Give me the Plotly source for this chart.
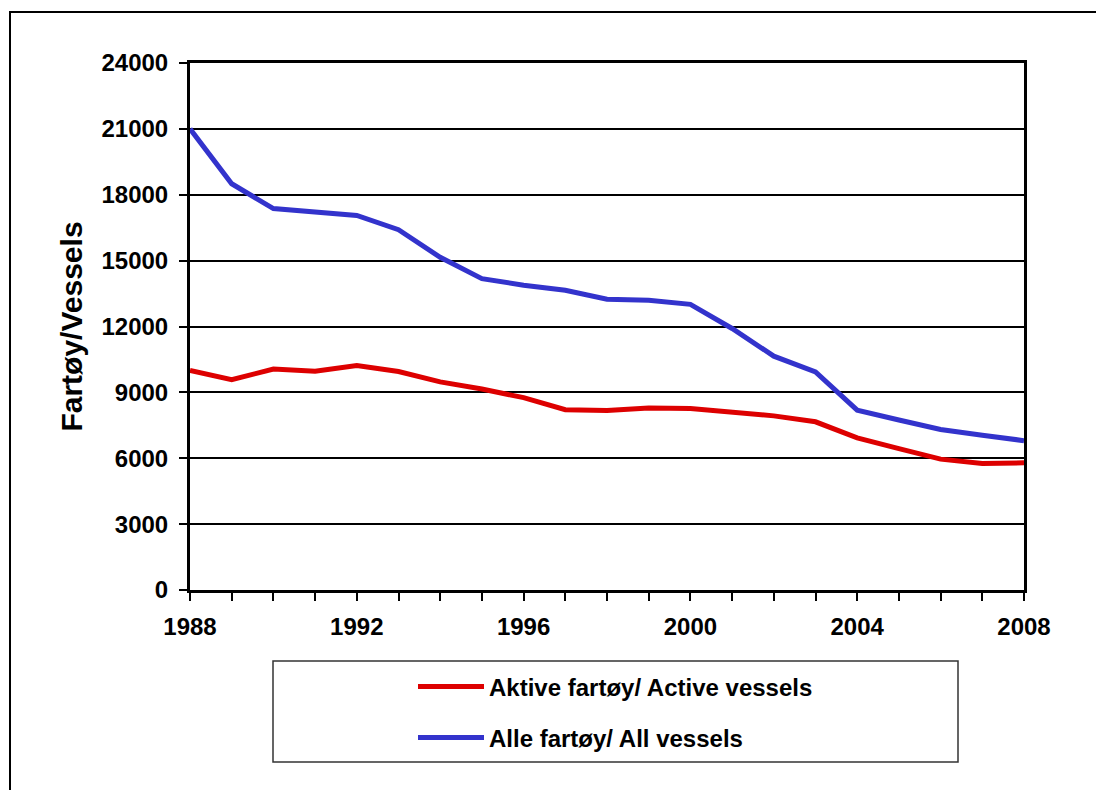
import plotly.graph_objects as go

years = list(range(1988, 2009))
active_vessels = [10000, 9580, 10060, 9960, 10220, 9950, 9480, 9150, 8760, 8210,
                  8170, 8290, 8260, 8080, 7930, 7660, 6930, 6440, 5960, 5760, 5790]
all_vessels = [21000, 18500, 17370, 17220, 17060, 16410, 15150, 14180, 13880, 13650,
               13240, 13190, 13010, 11910, 10650, 9930, 8190, 7740, 7310, 7050, 6800]
x_tick_labels = [str(y) if (y - 1988) % 4 == 0 else "" for y in years]
y_tick_values = [0, 3000, 6000, 9000, 12000, 15000, 18000, 21000, 24000]
series_names = ["Aktive fartøy/ Active vessels", "Alle fartøy/ All vessels"]

FONT = "Liberation Sans, Arial, Helvetica, sans-serif"

fig = go.Figure()
fig.add_trace(go.Scatter(x=years, y=active_vessels, mode="lines", name=series_names[0],
                         line=dict(color="#DD0000", width=5), legend="legend"))
fig.add_trace(go.Scatter(x=years, y=all_vessels, mode="lines", name=series_names[1],
                         line=dict(color="#3333CC", width=5), legend="legend2"))

# page body has an 8px offset; figure coordinates are shifted accordingly
OFF = 8
W, H = 1104, 790
L, R, T, B = 190 - OFF, 1024 - OFF, 63 - OFF, 590 - OFF


def px(xp):
    return (xp - OFF - L) / (R - L)


def py(yp):
    return (B - (yp - OFF)) / (B - T)


legend_common = dict(font=dict(family=FONT, size=24, color="black", weight="bold"),
                     bgcolor="rgba(0,0,0,0)", borderwidth=0, xanchor="left",
                     yanchor="middle", x=px(413), itemwidth=66)

fig.update_layout(
    width=W, height=H,
    margin=dict(l=L, r=W - R, t=T, b=H - B, autoexpand=False),
    paper_bgcolor="white", plot_bgcolor="white",
    font=dict(family=FONT, size=24, color="black", weight="bold"),
    showlegend=True,
    legend=dict(**legend_common, y=py(687)),
    legend2=dict(**legend_common, y=py(738)),
    xaxis=dict(range=[1988, 2008], tickvals=years, ticktext=x_tick_labels,
               ticks="outside", ticklen=8, tickwidth=2, tickcolor="black",
               showline=True, linewidth=3, linecolor="black", mirror=True,
               showgrid=False, zeroline=False, ticklabelstandoff=5,
               tickfont=dict(family=FONT, size=24, color="black", weight="bold")),
    yaxis=dict(range=[0, 24000], tickvals=y_tick_values,
               ticktext=[str(v) for v in y_tick_values],
               ticks="outside", ticklen=8, tickwidth=2, tickcolor="black",
               showline=True, linewidth=3, linecolor="black", mirror=True,
               showgrid=True, gridcolor="black", gridwidth=2, zeroline=False,
               ticklabelstandoff=6,
               tickfont=dict(family=FONT, size=24, color="black", weight="bold"),
               title=dict(text="Fartøy/Vessels", standoff=10,
                          font=dict(family=FONT, size=30, color="black", weight="bold"))),
    shapes=[
        dict(type="rect", xref="paper", yref="paper",
             x0=px(10), x1=px(1112), y0=py(810), y1=py(12),
             line=dict(color="black", width=2), fillcolor="rgba(0,0,0,0)", layer="below"),
        dict(type="rect", xref="paper", yref="paper",
             x0=px(273), x1=px(958), y0=py(762), y1=py(661),
             line=dict(color="#333333", width=1.5), fillcolor="rgba(0,0,0,0)"),
    ],
)

fig.write_html("out.html")
